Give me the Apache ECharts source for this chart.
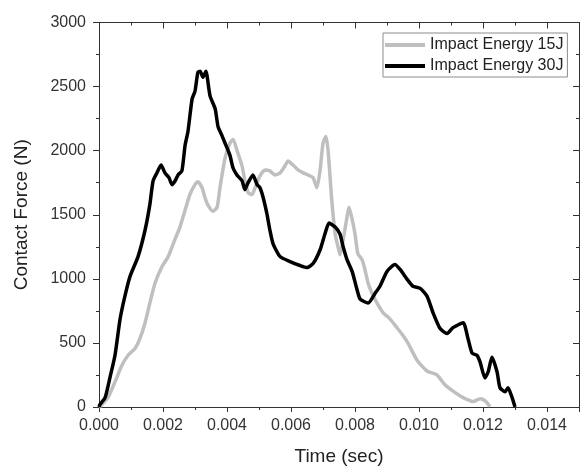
<!DOCTYPE html>
<html>
<head>
<meta charset="utf-8">
<script src="https://cdn.jsdelivr.net/npm/echarts@6/dist/echarts.min.js"></script>
<style>
  html, body { margin: 0; padding: 0; background: #fff; }
  #chart { width: 581px; height: 471px; }
</style>
</head>
<body>
<div id="chart"></div>
<script>
// Contact force history for two impact energies (time in s, force in N)
const time15 = [0, 0.00003, 0.00028, 0.00050, 0.00072, 0.00091, 0.00113, 0.00128, 0.00144, 0.00159,
  0.00175, 0.00197, 0.00216, 0.00238, 0.00253, 0.00269, 0.00284, 0.00300, 0.00309, 0.00322,
  0.00331, 0.00341, 0.00356, 0.00369, 0.00378, 0.00394, 0.00409, 0.00419, 0.00431, 0.00447,
  0.00456, 0.00466, 0.00478, 0.00488, 0.00503, 0.00519, 0.00534, 0.00550, 0.00566, 0.00581,
  0.00591, 0.00606, 0.00622, 0.00638, 0.00653, 0.00669, 0.00681, 0.00691, 0.00700, 0.00709,
  0.00716, 0.00728, 0.00738, 0.00747, 0.00753, 0.00763, 0.00775, 0.00781, 0.00791, 0.00800,
  0.00809, 0.00822, 0.00831, 0.00841, 0.00853, 0.00869, 0.00888, 0.00909, 0.00931, 0.00950,
  0.00966, 0.00994, 0.01025, 0.01056, 0.01081, 0.01113, 0.01138, 0.01169, 0.01191, 0.01206,
  0.01222];
const force15 = [0, 4, 73, 196, 327, 404, 458, 535, 658, 812,
  965, 1096, 1173, 1312, 1404, 1535, 1658, 1735, 1758, 1711,
  1635, 1573, 1527, 1558, 1711, 1942, 2058, 2088, 2004, 1881,
  1765, 1673, 1658, 1711, 1804, 1850, 1842, 1811, 1827, 1881,
  1919, 1888, 1850, 1827, 1811, 1788, 1711, 1850, 2058, 2111,
  1996, 1596, 1350, 1250, 1188, 1304, 1481, 1558, 1465, 1350,
  1196, 1150, 1073, 965, 888, 811, 735, 688, 619, 558,
  496, 365, 281, 250, 173, 112, 73, 42, 65, 50,
  4];

const time30 = [0, 0.00003, 0.00019, 0.00034, 0.00050, 0.00066, 0.00081, 0.00097, 0.00122, 0.00144,
  0.00159, 0.00169, 0.00181, 0.00194, 0.00206, 0.00219, 0.00228, 0.00238, 0.00247, 0.00259,
  0.00269, 0.00278, 0.00291, 0.00300, 0.00309, 0.00316, 0.00325, 0.00334, 0.00347, 0.00363,
  0.00372, 0.00384, 0.00394, 0.00409, 0.00419, 0.00431, 0.00447, 0.00456, 0.00466, 0.00481,
  0.00494, 0.00503, 0.00513, 0.00525, 0.00534, 0.00544, 0.00566, 0.00597, 0.00628, 0.00650,
  0.00669, 0.00691, 0.00706, 0.00719, 0.00738, 0.00753, 0.00763, 0.00775, 0.00791, 0.00806,
  0.00816, 0.00841, 0.00863, 0.00878, 0.00900, 0.00925, 0.00941, 0.00963, 0.00981, 0.01003,
  0.01025, 0.01044, 0.01066, 0.01088, 0.01106, 0.01138, 0.01153, 0.01166, 0.01181, 0.01191,
  0.01206, 0.01216, 0.01228, 0.01244, 0.01253, 0.01269, 0.01278, 0.01291, 0.01300];
const force30 = [0, 19, 73, 227, 404, 688, 865, 1019, 1173, 1381,
  1581, 1765, 1827, 1888, 1827, 1788, 1735, 1765, 1811, 1842,
  2042, 2150, 2404, 2465, 2611, 2619, 2573, 2619, 2427, 2327,
  2188, 2119, 2058, 1965, 1865, 1811, 1765, 1696, 1750, 1811,
  1735, 1711, 1635, 1504, 1381, 1273, 1173, 1135, 1104, 1088,
  1119, 1227, 1350, 1435, 1404, 1350, 1250, 1150, 1058, 919,
  842, 811, 888, 942, 1058, 1112, 1073, 996, 942, 927,
  865, 735, 612, 573, 619, 658, 535, 419, 404, 350,
  227, 273, 388, 273, 150, 119, 150, 73, 0];

const seriesNames = ['Impact Energy 15J', 'Impact Energy 30J'];
const seriesColors = ['#bfbfbf', '#000000'];

const xTicks = { min: 0, max: 0.015, interval: 0.002 };
const yTicks = { min: 0, max: 3000, interval: 500 };

const zip = (xs, ys) => xs.map((x, i) => [x, ys[i]]);

const font = 'Liberation Sans, Arial, sans-serif';
const axisColor = '#333';

const chart = echarts.init(document.getElementById('chart'), null, { renderer: 'canvas' });

const baseX = {
  type: 'value',
  min: xTicks.min, max: xTicks.max, interval: xTicks.interval,
  splitLine: { show: false },
  axisLine: { show: true, onZero: false, lineStyle: { color: axisColor, width: 1 } },
  minorTick: { show: true, splitNumber: 2, length: 3, lineStyle: { color: axisColor } },
  axisTick: { show: true, length: 5, lineStyle: { color: axisColor } }
};
const baseY = {
  type: 'value',
  min: yTicks.min, max: yTicks.max, interval: yTicks.interval,
  splitLine: { show: false },
  axisLine: { show: true, onZero: false, lineStyle: { color: axisColor, width: 1 } },
  minorTick: { show: true, splitNumber: 2, length: 3, lineStyle: { color: axisColor } },
  axisTick: { show: true, length: 6, lineStyle: { color: axisColor } }
};

chart.setOption({
  animation: false,
  backgroundColor: '#fff',
  grid: { left: 99, right: 2, top: 22.5, bottom: 58.5, containLabel: false },
  legend: {
    orient: 'vertical',
    left: 383, top: 33,
    padding: [4, 4, 3, 2],
    itemGap: 5,
    itemWidth: 40, itemHeight: 4,
    icon: 'rect',
    borderColor: '#8c8c8c', borderWidth: 1,
    textStyle: { fontFamily: font, fontSize: 16, color: '#222' },
    data: seriesNames
  },
  xAxis: [
    Object.assign({}, baseX, {
      position: 'bottom',
      name: 'Time (sec)', nameLocation: 'middle', nameGap: 40,
      nameTextStyle: { fontFamily: font, fontSize: 19, color: '#222' },
      axisLabel: { fontFamily: font, fontSize: 16, color: '#333', margin: 11,
        formatter: v => v.toFixed(3) }
    }),
    Object.assign({}, baseX, {
      position: 'top',
      axisTick: { show: true, inside: true, length: 6, lineStyle: { color: axisColor } },
      axisLabel: { show: false }
    })
  ],
  yAxis: [
    Object.assign({}, baseY, {
      position: 'left',
      name: 'Contact Force (N)', nameLocation: 'middle', nameGap: 68,
      nameTextStyle: { fontFamily: font, fontSize: 19, color: '#222' },
      axisLabel: { fontFamily: font, fontSize: 16, color: '#333', margin: 13,
        formatter: v => String(v) }
    }),
    Object.assign({}, baseY, {
      position: 'right',
      axisTick: { show: true, inside: true, length: 6, lineStyle: { color: axisColor } },
      axisLabel: { show: false }
    })
  ],
  series: [
    {
      name: seriesNames[0], type: 'line', xAxisIndex: 0, yAxisIndex: 0,
      data: zip(time15, force15),
      showSymbol: false, symbol: 'none', smooth: 0.2,
      lineStyle: { color: seriesColors[0], width: 3.5 },
      itemStyle: { color: seriesColors[0] },
      z: 2
    },
    {
      name: seriesNames[1], type: 'line', xAxisIndex: 0, yAxisIndex: 0,
      data: zip(time30, force30),
      showSymbol: false, symbol: 'none', smooth: 0.2,
      lineStyle: { color: seriesColors[1], width: 3.5 },
      itemStyle: { color: seriesColors[1] },
      z: 3
    }
  ]
});
</script>
</body>
</html>
